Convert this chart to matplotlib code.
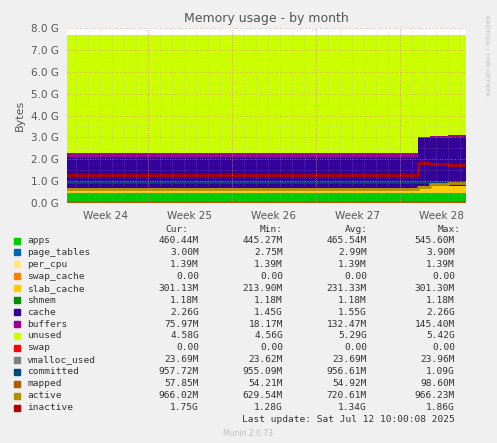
import numpy as np
import matplotlib.pyplot as plt

W, H = 497, 443

# time axis in weeks, 0 = start of week 25
t = [-0.964, 3.21, 3.36, 3.57, 3.786]

# stacked areas (GB), values at each time step (step-post)
apps = [0.45, 0.46, 0.46, 0.46, 0.46]
page_tables = [0.003, 0.003, 0.003, 0.003, 0.003]
per_cpu = [0.0014, 0.0014, 0.0014, 0.0014, 0.0014]
swap_cache = [0, 0, 0, 0, 0]
slab_cache = [0.214, 0.30, 0.30, 0.30, 0.30]
shmem = [0.0012, 0.0012, 0.0012, 0.0012, 0.0012]
cache = [1.45, 2.20, 2.26, 2.26, 2.26]
buffers = [0.145, 0.04, 0.05, 0.076, 0.076]
total = 7.68

# lines
swap = [0, 0, 0, 0, 0]
vmalloc_used = [0.0237, 0.0237, 0.0237, 0.0237, 0.0237]
committed = [0.955, 0.95, 0.957, 0.957, 0.957]
mapped = [0.054, 0.058, 0.058, 0.058, 0.058]
active = [0.63, 0.75, 0.87, 0.92, 0.966]
inactive = [1.28, 1.82, 1.80, 1.72, 1.75]

names = ["apps", "page_tables", "per_cpu", "swap_cache", "slab_cache", "shmem", "cache",
         "buffers", "unused", "swap", "vmalloc_used", "committed", "mapped", "active", "inactive"]
colors = ["#00CC00", "#0066B3", "#FFE680", "#FF8000", "#FFCC00", "#008F00", "#330099",
          "#990099", "#CCFF00", "#FF0000", "#808080", "#00487D", "#B35A00", "#B38F00", "#B30000"]
cur = ["460.44M", "3.00M", "1.39M", "0.00", "301.13M", "1.18M", "2.26G", "75.97M", "4.58G",
       "0.00", "23.69M", "957.72M", "57.85M", "966.02M", "1.75G"]
mins = ["445.27M", "2.75M", "1.39M", "0.00", "213.90M", "1.18M", "1.45G", "18.17M", "4.56G",
        "0.00", "23.62M", "955.09M", "54.21M", "629.54M", "1.28G"]
avgs = ["465.54M", "2.99M", "1.39M", "0.00", "231.33M", "1.18M", "1.55G", "132.47M", "5.29G",
        "0.00", "23.69M", "956.61M", "54.92M", "720.61M", "1.34G"]
maxs = ["545.60M", "3.90M", "1.39M", "0.00", "301.30M", "1.18M", "2.26G", "145.40M", "5.42G",
        "0.00", "23.96M", "1.09G", "98.60M", "966.23M", "1.86G"]

stack = [apps, page_tables, per_cpu, swap_cache, slab_cache, shmem, cache, buffers]
stack = [np.array(s) for s in stack]
stack.append(total - sum(stack))
lines = [swap, vmalloc_used, committed, mapped, active, inactive]

fig = plt.figure(figsize=(W / 100, H / 100), dpi=100, facecolor="#F0F0F0")
ax = fig.add_axes([67 / W, 1 - 203 / H, (466 - 67) / W, (203 - 28) / H])
ax.set_facecolor("white")

base = np.zeros(len(t))
for s, c in zip(stack, colors[:9]):
    ax.fill_between(t, base, base + s, step="post", color=c, lw=0)
    base = base + s
for s, c in zip(lines, colors[9:]):
    ax.step(t, s, where="post", color=c, lw=2)

ax.set_xlim(t[0], t[-1])
ax.set_ylim(0, 8)
ax.set_yticks(np.arange(0, 8.1, 1))
ax.set_yticklabels([f"{v:.1f} G" for v in np.arange(0, 8.1, 1)], fontsize=7.5, color="#555555")
ax.set_yticks(np.arange(0, 8, 0.5), minor=True)
ax.set_xticks(np.arange(0, 4))
ax.set_xticklabels([])
ax.set_xticks(np.arange(-0.5, 3.6, 1), minor=True)
ax.set_xticklabels(["Week 24", "Week 25", "Week 26", "Week 27", "Week 28"], minor=True,
                   fontsize=7.5, color="#555555")
ax.tick_params(which="both", length=0, pad=6)
ax.grid(which="major", axis="both", color="#E08080", ls=(0, (1, 2)), lw=0.6, alpha=0.8)
for x in np.arange(-0.964 + 0.107, 3.786, 1 / 7):
    ax.axvline(x, color="#B0B0B0", ls=(0, (1, 2)), lw=0.5, alpha=0.5, zorder=2.5)
ax.grid(which="minor", axis="y", color="#B0B0B0", ls=(0, (1, 2)), lw=0.5, alpha=0.5)
ax.set_axisbelow(False)
for sp in ax.spines.values():
    sp.set_visible(False)
ax.set_ylabel("Bytes", fontsize=8, color="#555555")
ax.set_title("Memory usage - by month", fontsize=9, color="#555555", pad=4)

fig.text(487 / W, 1 - 55 / H, "RRDTOOL / TOBI OETIKER", rotation=270, fontsize=4.5,
         color="#BBBBBB", ha="center", va="center")

mono = dict(family="DejaVu Sans Mono", fontsize=6.8, color="#333333", va="center")
hdr_y = 1 - 229 / H
for lbl, xr in zip(["Cur:", "Min:", "Avg:", "Max:"], [188, 283, 368, 461]):
    fig.text(xr / W, hdr_y, lbl, ha="right", **mono)
for i, n in enumerate(names):
    y = 1 - (240.5 + i * 11.93) / H
    fig.patches.append(plt.Rectangle((14 / W, y - 3 / H), 6 / W, 6 / H,
                                     transform=fig.transFigure, color=colors[i]))
    fig.text(27 / W, y, n, ha="left", **mono)
    for col, xr in zip([cur, mins, avgs, maxs], [199, 283, 367, 455]):
        fig.text(xr / W, y, col[i], ha="right", **mono)
fig.text(455 / W, 1 - 420 / H, "Last update: Sat Jul 12 10:00:08 2025", ha="right", **mono)
fig.text(248 / W, 1 - 433 / H, "Munin 2.0.73", ha="center", va="center", fontsize=5.5,
         color="#BBBBBB")

fig.savefig("out.png", dpi=100, facecolor=fig.get_facecolor())
